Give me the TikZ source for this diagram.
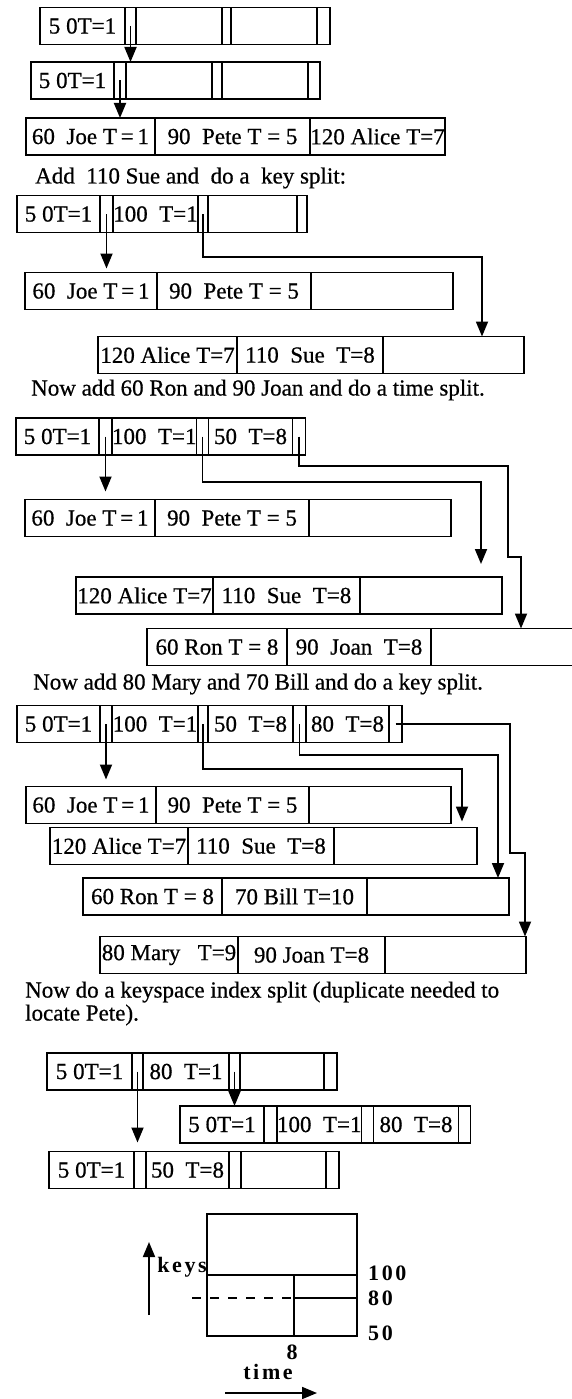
\documentclass[tikz,border=0pt]{standalone}
\usepackage{fontspec}
\setmainfont{Liberation Serif}
\newfontfamily\scanfont[FakeBold=0.6]{Liberation Serif}
\newfontfamily\chartfont[LetterSpace=12]{Liberation Serif}
\usetikzlibrary{positioning,arrows.meta}

\begin{document}
\begin{tikzpicture}[
        x=1pt, y=-1pt,
        cell/.style={rectangle, draw, line width=1.8pt, inner sep=0pt, outer sep=0pt, minimum height=37pt, anchor=west, font=\scanfont\fontsize{23}{26}\selectfont},
        ptr/.style={cell, minimum width=12pt},
        note/.style={anchor=west, inner sep=0pt, align=left, font=\scanfont\fontsize{23}{23}\selectfont},
        arrow/.style={-{Triangle[length=15pt,width=12pt]}, line width=1.8pt},
        axislabel/.style={inner sep=0pt, font=\chartfont\bfseries\fontsize{22}{24}\selectfont}
    ]
        \useasboundingbox (0,0) rectangle (571,1399);

        % index node, then its copy
        \node[cell, minimum width=85pt] (a1) at (40,26) {5 0T=1};
        \node[ptr, minimum width=11pt, right=0pt of a1] (ap1) {};
        \node[cell, minimum width=86pt, right=0pt of ap1] (a2) {};
        \node[ptr, minimum width=9pt, right=0pt of a2] (ap2) {};
        \node[cell, minimum width=86pt, right=0pt of ap2] (a3) {};
        \node[ptr, minimum width=13pt, right=0pt of a3] (ap3) {};

        \node[cell, minimum width=83pt] (b1) at (31,80.5) {5 0T=1};
        \node[ptr, right=0pt of b1] (bp1) {};
        \node[cell, minimum width=86pt, right=0pt of bp1] (b2) {};
        \node[ptr, minimum width=10pt, right=0pt of b2] (bp2) {};
        \node[cell, minimum width=86pt, right=0pt of bp2] (b3) {};
        \node[ptr, right=0pt of b3] (bp3) {};

        \node[cell, minimum width=129pt] (c1) at (26,136.5) {60\ \ Joe T\,=\,1};
        \node[cell, minimum width=155pt, right=0pt of c1] (c2) {90\ \ Pete T = 5};
        \node[cell, minimum width=135pt, right=0pt of c2] (c3) {120 Alice T=7};

        \draw[arrow] (ap1.center) -- (ap1.center |- b1.north);
        \draw[arrow] (bp1.center) -- (bp1.center |- c1.north);

        \node[note] (t1) at (35,178) {Add\ \ 110 Sue and\ \ do a\ \ key split:};

        % key split
        \node[cell, minimum width=83pt] (d1) at (17,214) {5 0T=1};
        \node[ptr, minimum width=13pt, right=0pt of d1] (dp1) {};
        \node[cell, minimum width=85pt, right=0pt of dp1] (d2) {100\ \ T=1};
        \node[ptr, minimum width=10pt, right=0pt of d2] (dp2) {};
        \node[cell, minimum width=89pt, right=0pt of dp2] (d3) {};
        \node[ptr, minimum width=10pt, right=0pt of d3] (dp3) {};

        \node[cell, minimum width=132pt] (e1) at (25,291) {60\ \ Joe T\,=\,1};
        \node[cell, minimum width=154pt, right=0pt of e1] (e2) {90\ \ Pete T = 5};
        \node[cell, minimum width=142pt, right=0pt of e2] (e3) {};

        \node[cell, minimum width=139pt] (f1) at (98,355) {120 Alice T=7};
        \node[cell, minimum width=146pt, right=0pt of f1] (f2) {110\ \ Sue\ \ T=8};
        \node[cell, minimum width=141pt, right=0pt of f2] (f3) {};

        \coordinate (d2bend) at (482,257);
        \draw[arrow, shorten >=4pt] (dp1.center) -- (dp1.center |- e1.north);
        \draw[arrow] (dp2.center) |- (d2bend) -- (d2bend |- f1.north);

        \node[note] (t2) at (31,390) {Now add 60 Ron and 90 Joan and do a time split.};

        % time split
        \node[cell, minimum width=83pt] (g1) at (16,436.5) {5 0T=1};
        \node[ptr, minimum width=13pt, right=0pt of g1] (gp1) {};
        \node[cell, minimum width=84pt, right=0pt of gp1] (g2) {100\ \ T=1};
        \node[ptr, right=0pt of g2] (gp2) {};
        \node[cell, minimum width=84pt, right=0pt of gp2] (g3) {50\ \ T=8};
        \node[ptr, minimum width=13pt, right=0pt of g3] (gp3) {};

        \node[cell, minimum width=130pt] (h1) at (25,518) {60\ \ Joe T\,=\,1};
        \node[cell, minimum width=154pt, right=0pt of h1] (h2) {90\ \ Pete T = 5};
        \node[cell, minimum width=142pt, right=0pt of h2] (h3) {};

        \node[cell, minimum width=137pt] (i1) at (76,595.5) {120 Alice T=7};
        \node[cell, minimum width=147pt, right=0pt of i1] (i2) {110\ \ Sue\ \ T=8};
        \node[cell, minimum width=142pt, right=0pt of i2] (i3) {};

        \node[cell, minimum width=140pt] (j1) at (147,647) {60 Ron T = 8};
        \node[cell, minimum width=144pt, right=0pt of j1] (j2) {90\ \ Joan\ \ T=8};
        \node[cell, minimum width=142pt, right=0pt of j2] (j3) {};

        \coordinate (g2bend) at (481,482);
        \coordinate (g3bend) at (508,466);
        \coordinate (g3step) at (521,557);
        \draw[arrow, shorten >=8pt] (gp1.center) -- (gp1.center |- h1.north);
        \draw[arrow, shorten >=13pt] (gp2.center) |- (g2bend) -- (g2bend |- i1.north);
        \draw[arrow] (gp3.center) |- (g3bend) |- (g3step) -- (g3step |- j1.north);

        \node[note] (t3) at (33,684) {Now add 80 Mary and 70 Bill and do a key split.};

        % second key split
        \node[cell, minimum width=83pt] (k1) at (17,724) {5 0T=1};
        \node[ptr, right=0pt of k1] (kp1) {};
        \node[cell, minimum width=86pt, right=0pt of kp1] (k2) {100\ \ T=1};
        \node[ptr, minimum width=10pt, right=0pt of k2] (kp2) {};
        \node[cell, minimum width=85pt, right=0pt of kp2] (k3) {50\ \ T=8};
        \node[ptr, minimum width=13pt, right=0pt of k3] (kp3) {};
        \node[cell, minimum width=83pt, right=0pt of kp3] (k4) {80\ \ T=8};
        \node[ptr, minimum width=13pt, right=0pt of k4] (kp4) {};

        \node[cell, minimum width=130pt] (l1) at (26,805) {60\ \ Joe T\,=\,1};
        \node[cell, minimum width=153pt, right=0pt of l1] (l2) {90\ \ Pete T = 5};
        \node[cell, minimum width=142pt, right=0pt of l2] (l3) {};

        \node[cell, minimum width=138pt] (m1) at (50,846) {120 Alice T=7};
        \node[cell, minimum width=146pt, right=0pt of m1] (m2) {110\ \ Sue\ \ T=8};
        \node[cell, minimum width=143pt, right=0pt of m2] (m3) {};

        \node[cell, minimum width=139pt] (n1) at (83,896.5) {60 Ron T = 8};
        \node[cell, minimum width=145pt, right=0pt of n1] (n2) {70 Bill T=10};
        \node[cell, minimum width=142pt, right=0pt of n2] (n3) {};

        \node[cell, minimum width=138pt] (o1) at (100,955) {80 Mary\ \ \ T=9};
        \node[cell, minimum width=147pt, right=0pt of o1] (o2) {90 Joan T=8};
        \node[cell, minimum width=141pt, right=0pt of o2] (o3) {};

        \coordinate (k2bend) at (462,769);
        \coordinate (k3bend) at (498,755);
        \coordinate (k4bend) at (510,853);
        \coordinate (k4step) at (525,853);
        \draw[arrow, shorten >=7pt] (kp1.center) -- (kp1.center |- l1.north);
        \draw[arrow, shorten >=6pt] (kp2.center) |- (k2bend) -- (k2bend |- m1.north);
        \draw[arrow] (kp3.center) |- (k3bend) -- (k3bend |- n1.north);
        \draw[arrow] (kp4.center) -| (k4bend) -- (k4step) -- (k4step |- o1.north);

        \node[note] (t4) at (25,1003.5) {Now do a keyspace index split (duplicate needed to\\locate Pete).};

        % index split
        \node[cell, minimum width=85pt] (p1) at (47,1071.5) {5 0T=1};
        \node[ptr, minimum width=11pt, right=0pt of p1] (pp1) {};
        \node[cell, minimum width=86pt, right=0pt of pp1] (p2) {80\ \ T=1};
        \node[ptr, minimum width=11pt, right=0pt of p2] (pp2) {};
        \node[cell, minimum width=84pt, right=0pt of pp2] (p3) {};
        \node[ptr, minimum width=13pt, right=0pt of p3] (pp3) {};

        \node[cell, minimum width=84pt] (q1) at (180,1124.5) {5 0T=1};
        \node[ptr, minimum width=13pt, right=0pt of q1] (qp1) {};
        \node[cell, minimum width=83pt, right=0pt of qp1] (q2) {100\ \ T=1};
        \node[ptr, right=0pt of q2] (qp2) {};
        \node[cell, minimum width=85pt, right=0pt of qp2] (q3) {80\ \ T=8};
        \node[ptr, right=0pt of q3] (qp3) {};

        \node[cell, minimum width=85pt] (r1) at (49,1170) {5 0T=1};
        \node[ptr, right=0pt of r1] (rp1) {};
        \node[cell, minimum width=83pt, right=0pt of rp1] (r2) {50\ \ T=8};
        \node[ptr, right=0pt of r2] (rp2) {};
        \node[cell, minimum width=85pt, right=0pt of rp2] (r3) {};
        \node[ptr, minimum width=13pt, right=0pt of r3] (rp3) {};

        \draw[arrow, shorten >=9pt] (pp1.center) -- (pp1.center |- r1.north);
        \draw[arrow] (pp2.center) -- (pp2.center |- q1.north);

        % key space over time
        \node[draw, line width=1.8pt, inner sep=0pt, outer sep=0pt, minimum width=150pt, minimum height=122pt, anchor=north west] (space) at (207,1214) {};
        \coordinate (at100) at (207,1275);
        \coordinate (at8) at (294,1275);
        \coordinate (at80) at (294,1298);
        \coordinate (dashfrom) at (192,1298);
        \draw[line width=1.8pt] (at100) -- (at100 -| space.east);
        \draw[line width=1.8pt] (at8) -- (at8 |- space.south);
        \draw[line width=1.8pt] (at80) -- (at80 -| space.east);
        \draw[line width=1.8pt, dash pattern=on 9pt off 9pt] (dashfrom) -- (at80);

        \node[axislabel, anchor=east] (keys) at (207,1267) {keys};
        \node[axislabel, anchor=west] (v100) at (368,1273) {100};
        \node[axislabel, anchor=west] (v80) at (368,1298) {80};
        \node[axislabel, anchor=west] (v50) at (368,1333) {50};
        \node[axislabel] (v8) at (292,1352) {8};
        \node[axislabel] (time) at (268,1372) {time};

        \coordinate (keysfrom) at (149,1315);
        \coordinate (keysto) at (149,1242);
        \coordinate (timefrom) at (225,1393);
        \coordinate (timeto) at (317,1393);
        \draw[arrow] (keysfrom) -- (keysto);
        \draw[arrow] (timefrom) -- (timeto);
    \end{tikzpicture}
\end{document}
